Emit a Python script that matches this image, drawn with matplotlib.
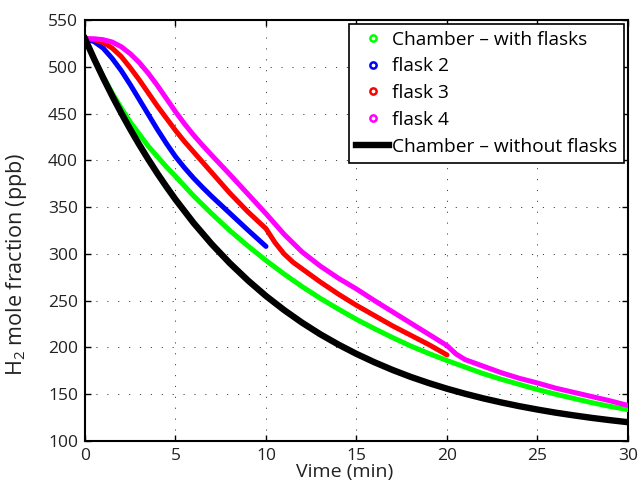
import matplotlib.pyplot as plt
from matplotlib.lines import Line2D

plt.rcParams['font.family'] = ['Open Sans', 'DejaVu Sans']
plt.rcParams['mathtext.default'] = 'regular'

# time axis (min): half-minute steps for the first 5 minutes, then 1 min
t_head = [0, 0.5, 1, 1.5, 2, 2.5, 3, 3.5, 4, 4.5, 5]
t_mid = [5.5, 6, 6.5, 7, 8, 9, 10]

# chamber with flasks, 0-30 min
chamber_t = t_head + list(range(6, 31))
chamber = [530, 509, 490, 472, 456, 441, 428, 415, 404, 393, 383,
           362, 343, 325, 308.5, 293, 278.5, 265, 252.5, 241, 230,
           220, 210.5, 201.5, 193.5, 186, 179, 172, 166, 160.5, 155,
           150, 145.5, 141, 137, 133.5]

# flask 2, sampled up to 10 min
flask2_t = t_head + t_mid
flask2 = [530, 527, 520, 509, 496, 481, 465, 449, 433, 418, 404,
          392, 381, 371, 361.5, 343.5, 325.5, 308]

# flask 3, sampled up to 20 min
flask3_t = t_head + [5.5, 6, 6.5, 7, 8, 9, 10, 10.5, 11, 11.5, 12, 13, 14,
                     15, 16, 17, 18, 19, 20]
flask3 = [530, 529, 526, 520, 511, 499, 486, 472, 458, 445, 432,
          420, 409, 398, 387, 365, 345, 327, 312, 300, 291, 284, 270, 257,
          245, 234, 223, 213, 203, 192]

# flask 4, 0-30 min
flask4_t = t_head + [5.5, 6, 6.5, 7, 8, 9, 10, 11, 12, 13, 14, 15, 16, 17,
                     18, 19, 20, 20.5, 21, 22, 23, 24, 25, 26, 27, 28, 29, 30]
flask4 = [530, 530, 529, 526.5, 521.5, 514, 504.5, 493, 480, 466, 452,
          439, 427, 416, 405.5, 385, 364, 343, 321, 302, 287, 274, 262.5,
          250, 238, 226, 214, 202, 193, 187, 180, 173, 167, 162,
          156.5, 152, 147.5, 143, 138]

# chamber without flasks
empty_t = t_head + list(range(6, 31))
empty = [530, 508.6, 488.3, 469, 450.7, 433.3, 416.7, 401, 386, 371.8, 358.2,
         333.1, 310.5, 290.1, 271.7, 255, 240, 226.4, 214.1, 203.1, 193.1,
         184.1, 175.9, 168.5, 161.9, 155.9, 150.5, 145.6, 141.2, 137.2, 133.6,
         130.3, 127.4, 124.7, 122.3, 120.1]

labels = ['Chamber \u2013 with flasks', 'flask 2', 'flask 3', 'flask 4',
          'Chamber \u2013 without flasks']
colors = ['#00ff00', '#0000ff', '#ff0000', '#ff00ff', '#000000']

fig = plt.figure(figsize=(6.38, 4.86), dpi=100)
ax = fig.add_axes([0.1332, 0.0926, 0.8511, 0.8662])

series = [(chamber_t, chamber), (flask2_t, flask2), (flask3_t, flask3),
          (flask4_t, flask4)]
for (tt, yy), c in zip(series, colors[:4]):
    ax.plot(tt, yy, color=c, lw=3.6, solid_capstyle='round',
            solid_joinstyle='round', zorder=3)
ax.plot(empty_t, empty, color='k', lw=4.6, solid_joinstyle='round', zorder=3)

ax.set_xlim(0, 30)
ax.set_ylim(100, 550)
ax.set_xticks(range(0, 31, 5))
ax.set_yticks(range(100, 551, 50))
ax.grid(True, color='#444444', lw=0.7, ls=(0, (1.2, 10)))
ax.tick_params(direction='in', length=4, width=1, top=True, right=True,
               labelsize=12.5, labelcolor='#222222', pad=5)
for s in ax.spines.values():
    s.set_linewidth(1.5)

ax.set_ylabel(r'H$_2$ mole fraction (ppb)', fontsize=15.5, color='#222222')
ax.yaxis.set_label_coords(-0.103, 0.42)
ax.set_xlabel('Vime (min)', fontsize=14, color='#222222')
ax.xaxis.set_label_coords(0.479, -0.052)

handles = [Line2D([], [], ls='none', marker='o', ms=4.5, mew=1.8,
                  mec=c, mfc='white') for c in colors[:4]]
handles.append(Line2D([], [], color='k', lw=4.6))
leg = ax.legend(handles, labels, loc='upper right', fontsize=13.8,
                frameon=True, fancybox=False, framealpha=1,
                edgecolor='k', borderaxespad=0.2, handlelength=1.75,
                handletextpad=0.15, labelspacing=0.46, borderpad=0.35)
leg.get_frame().set_linewidth(1.2)

fig.savefig('out.png', dpi=100)
